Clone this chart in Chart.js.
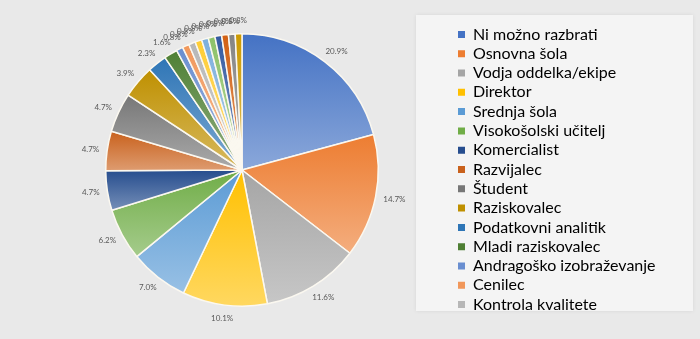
<html lang="sl">

<head>
    <meta charset="UTF-8">
    <title>Delovno mesto</title>
    <script src="https://cdn.jsdelivr.net/npm/chart.js@4.4.1/dist/chart.umd.min.js"></script>
    <style>
        body {
            margin: 0;
            background: #e9e9e9;
        }
    </style>
</head>

<body>
    <canvas id="chart" width="700" height="339"></canvas>

    <script>
        // categories (only the first 15 make it into the legend)
        const labels = [
            'Ni možno razbrati', 'Osnovna šola', 'Vodja oddelka/ekipe', 'Direktor',
            'Srednja šola', 'Visokošolski učitelj', 'Komercialist', 'Razvijalec',
            'Študent', 'Raziskovalec', 'Podatkovni analitik', 'Mladi raziskovalec',
            'Andragoško izobraževanje', 'Cenilec', 'Kontrola kvalitete',
            'Drugo 1', 'Drugo 2', 'Drugo 3', 'Drugo 4', 'Drugo 5', 'Drugo 6', 'Drugo 7'
        ];
        // share of answers in %
        const shares = [20.9, 14.7, 11.6, 10.1, 7.0, 6.2, 4.7, 4.7, 4.7, 3.9, 2.3, 1.6,
            0.8, 0.8, 0.8, 0.8, 0.8, 0.8, 0.8, 0.8, 0.8, 0.8];
        const legendCount = 15;

        const colors = [
            '#4472C4', '#ED7D31', '#A5A5A5', '#FFC000', '#5B9BD5', '#70AD47',
            '#264D8E', '#C9611C', '#777777', '#BF9000', '#2E75B6', '#4E7F34',
            '#698ED0', '#F1975A', '#B7B7B7', '#FFCD33', '#7CAFDD', '#8CC168',
            '#335AA1', '#D26012', '#848484', '#CC9A00'
        ];

        function tint(hex, k) {
            const n = parseInt(hex.slice(1), 16);
            const c = [n >> 16, (n >> 8) & 255, n & 255].map(v => Math.round(v + (255 - v) * k));
            return 'rgb(' + c.join(',') + ')';
        }

        // each slice gets its own top-to-bottom gradient
        function sliceFill(context) {
            const i = context.dataIndex;
            const chart = context.chart;
            const area = chart.chartArea;
            if (!area || !area.width) return colors[i];
            const total = shares.reduce((a, b) => a + b, 0);
            let before = 0;
            for (let k = 0; k < i; k++) before += shares[k];
            const a0 = -Math.PI / 2 + 2 * Math.PI * before / total;
            const a1 = a0 + 2 * Math.PI * shares[i] / total;
            const cx = (area.left + area.right) / 2;
            const cy = (area.top + area.bottom) / 2;
            const r = Math.min(area.width, area.height) / 2;
            const ys = [cy, cy + r * Math.sin(a0), cy + r * Math.sin(a1)];
            if (a0 < -Math.PI / 2 + 1e-6 || a1 > 1.5 * Math.PI) ys.push(cy - r);
            if (a0 < Math.PI / 2 && a1 > Math.PI / 2) ys.push(cy + r);
            const top = Math.min(...ys), bottom = Math.max(...ys);
            const g = chart.ctx.createLinearGradient(0, top, 0, bottom + 1);
            g.addColorStop(0, colors[i]);
            g.addColorStop(1, tint(colors[i], 0.38));
            return g;
        }

        // pie on the left, legend column in a pale box on the right
        const placeLayout = {
            id: 'placeLayout',
            afterLayout(chart) {
                Object.assign(chart.chartArea, { left: 105, right: 379, top: 33, bottom: 307, width: 274, height: 274 });
                const lg = chart.legend;
                const w = lg.width;
                lg.left = 454.7;
                lg.right = lg.left + w;
            },
            beforeDraw(chart) {
                const ctx = chart.ctx;
                ctx.save();
                ctx.fillStyle = '#f4f4f4';
                ctx.shadowColor = 'rgba(0,0,0,0.08)';
                ctx.shadowBlur = 4;
                ctx.fillRect(416, 15, 277, 296);
                ctx.restore();
            }
        };

        // percentage labels just outside the rim
        const outsideLabels = {
            id: 'outsideLabels',
            afterDatasetsDraw(chart) {
                const ctx = chart.ctx;
                const meta = chart.getDatasetMeta(0);
                ctx.save();
                ctx.font = '8px Lato';
                ctx.fillStyle = '#595959';
                ctx.textAlign = 'center';
                ctx.textBaseline = 'middle';
                meta.data.forEach((arc, i) => {
                    const text = shares[i].toFixed(1) + '%';
                    const mid = (arc.startAngle + arc.endAngle) / 2;
                    const w = ctx.measureText(text).width;
                    const r = arc.outerRadius + 8;
                    const x = arc.x + Math.cos(mid) * (r + w / 2);
                    const y = arc.y + Math.sin(mid) * (r + 5);
                    ctx.fillText(text, x, y);
                });
                ctx.restore();
            }
        };

        new Chart(document.getElementById('chart').getContext('2d'), {
            type: 'pie',
            data: {
                labels: labels,
                datasets: [{
                    data: shares,
                    backgroundColor: sliceFill,
                    borderColor: '#fbf8f0',
                    borderWidth: 1.5
                }]
            },
            options: {
                responsive: false,
                animation: false,
                layout: { padding: 0 },
                plugins: {
                    tooltip: { enabled: false },
                    legend: {
                        position: 'right',
                        labels: {
                            boxWidth: 7,
                            boxHeight: 7,
                            padding: 3.3,
                            color: '#404040',
                            font: { family: 'Lato', size: 16 },
                            generateLabels: chart => labels.slice(0, legendCount).map((t, i) => ({
                                text: t,
                                fillStyle: colors[i],
                                strokeStyle: colors[i],
                                lineWidth: 0,
                                index: i
                            }))
                        }
                    }
                }
            },
            plugins: [placeLayout, outsideLabels]
        });
    </script>

</body>

</html>
